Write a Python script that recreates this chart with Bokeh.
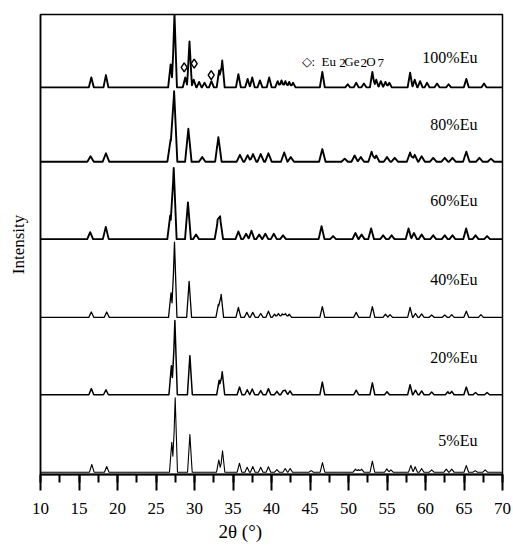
import numpy as np
from bokeh.plotting import figure
from bokeh.models import SingleIntervalTicker, FixedTicker, Title
from bokeh.core.properties import value
from bokeh.embed import file_html
from bokeh.resources import INLINE

# ---------------- data ----------------
samples = ["5%Eu", "20%Eu", "40%Eu", "60%Eu", "80%Eu", "100%Eu"]
offsets = [0.03, 1.04, 2.05, 3.07, 4.08, 5.05]

pos_5 = [16.66, 18.6, 27.05, 27.49, 29.4, 33.16, 33.64, 35.84, 36.84, 37.57, 38.6, 39.6,
         40.7, 41.78, 42.43, 45.15, 46.62, 50.9, 51.3, 51.7, 53.1, 54.98, 55.5, 58.1,
         58.66, 59.5, 60.8, 62.7, 63.4, 65.3, 66.45, 67.75]
h_5 = [0.10, 0.074, 0.39, 0.97, 0.49, 0.16, 0.28, 0.117, 0.065, 0.074, 0.065, 0.07,
       0.035, 0.048, 0.048, 0.02, 0.125, 0.04, 0.035, 0.04, 0.143, 0.043, 0.03, 0.09,
       0.07, 0.048, 0.03, 0.04, 0.04, 0.087, 0.02, 0.03]

pos_20 = [16.6, 18.5, 27.0, 27.45, 29.4, 33.2, 33.6, 35.85, 36.85, 37.5, 38.6, 39.6,
          40.7, 41.5, 41.8, 42.4, 46.6, 51.0, 53.1, 55.0, 58.0, 58.7, 59.5, 60.8,
          62.9, 63.4, 65.3, 66.5, 68.0]
h_20 = [0.08, 0.065, 0.38, 0.97, 0.51, 0.19, 0.30, 0.10, 0.065, 0.075, 0.055, 0.08,
        0.045, 0.05, 0.055, 0.05, 0.165, 0.06, 0.155, 0.04, 0.13, 0.06, 0.05, 0.035,
        0.04, 0.045, 0.10, 0.03, 0.03]

pos_40 = [16.6, 18.6, 26.95, 27.4, 29.3, 33.1, 33.46, 35.7, 36.8, 37.57, 38.6, 39.6,
          40.4, 40.9, 41.4, 41.8, 42.3, 46.6, 51.0, 53.1, 54.8, 55.4, 58.0, 58.7,
          59.5, 60.8, 62.5, 63.4, 65.3, 67.2]
h_40 = [0.07, 0.07, 0.32, 0.98, 0.47, 0.17, 0.30, 0.13, 0.065, 0.065, 0.05, 0.08,
        0.04, 0.05, 0.045, 0.05, 0.04, 0.14, 0.065, 0.14, 0.04, 0.035, 0.13, 0.05,
        0.045, 0.03, 0.03, 0.035, 0.08, 0.035]

pos_60 = [16.45, 18.48, 26.85, 27.3, 29.15, 30.2, 33.0, 33.33, 35.7, 36.7, 37.4, 38.4,
          39.2, 40.3, 41.5, 46.5, 48.0, 50.9, 51.7, 52.94, 54.5, 55.6, 57.8, 58.5,
          59.5, 61.0, 62.5, 63.5, 65.28, 66.5, 68.0]
h_60 = [0.09, 0.16, 0.31, 0.93, 0.48, 0.06, 0.22, 0.27, 0.10, 0.07, 0.11, 0.06,
        0.07, 0.07, 0.05, 0.17, 0.04, 0.08, 0.06, 0.14, 0.05, 0.05, 0.14, 0.08,
        0.06, 0.05, 0.05, 0.05, 0.14, 0.05, 0.04]

pos_80 = [16.5, 18.5, 26.9, 27.35, 29.2, 31.0, 33.1, 35.9, 36.9, 37.6, 38.6, 39.6,
          41.65, 42.5, 46.6, 49.5, 50.8, 51.6, 53.0, 53.6, 55.0, 56.0, 58.0, 58.6,
          59.5, 61.0, 62.5, 63.5, 65.3, 67.0, 68.5]
h_80 = [0.07, 0.11, 0.29, 0.92, 0.43, 0.06, 0.32, 0.09, 0.085, 0.10, 0.10, 0.11,
        0.12, 0.06, 0.165, 0.04, 0.08, 0.06, 0.13, 0.08, 0.06, 0.05, 0.12, 0.09,
        0.07, 0.05, 0.05, 0.05, 0.13, 0.05, 0.04]

pos_100 = [16.6, 18.5, 26.9, 27.4, 28.8, 29.35, 29.9, 30.6, 31.3, 32.2, 33.2, 33.6,
           35.7, 36.9, 37.5, 38.5, 39.7, 40.8, 41.3, 41.8, 42.3, 42.8, 46.6, 49.9,
           51.0, 52.0, 53.1, 53.6, 54.2, 54.8, 55.3, 58.0, 58.6, 59.3, 60.2, 61.5,
           63.0, 65.3, 67.6]
h_100 = [0.13, 0.16, 0.30, 0.96, 0.13, 0.60, 0.10, 0.07, 0.06, 0.08, 0.22, 0.35,
         0.17, 0.11, 0.13, 0.09, 0.13, 0.08, 0.09, 0.08, 0.07, 0.06, 0.20, 0.04,
         0.06, 0.05, 0.20, 0.10, 0.08, 0.07, 0.06, 0.19, 0.10, 0.08, 0.06, 0.05,
         0.04, 0.11, 0.05]

peak_pos = [pos_5, pos_20, pos_40, pos_60, pos_80, pos_100]
peak_h = [h_5, h_20, h_40, h_60, h_80, h_100]

# Eu2Ge2O7 phase markers (diamonds)
phase_2theta = [28.66, 29.96, 32.17]
phase_int = [5.31, 5.36, 5.21]

x_min, x_max = 10, 70

# ---------------- styles ----------------
half_widths = [0.3, 0.32, 0.32, 0.38, 0.42, 0.32]
line_widths = [1.1, 1.5, 1.3, 1.9, 1.9, 1.9]
SERIF = "Liberation Serif"


def profile(pos, h, base, w):
    pos = np.asarray(pos, dtype=float)
    h = np.asarray(h, dtype=float)
    xs = np.unique(np.concatenate([[x_min, x_max], pos - w, pos, pos + w]))
    xs = xs[(xs >= x_min) & (xs <= x_max)]
    tri = np.clip(1 - np.abs(xs[:, None] - pos[None, :]) / w, 0, None)
    return xs, base + (tri * h[None, :]).sum(axis=1)


p = figure(width=513, height=545, x_range=(x_min, x_max), y_range=(0, 6),
           output_backend="svg", toolbar_location=None,
           min_border_left=40, min_border_right=11, min_border_top=14,
           min_border_bottom=71)
p.grid.visible = False
p.outline_line_color = "black"
p.outline_line_width = 1.5
p.background_fill_color = "white"
p.border_fill_color = "white"

for i in range(len(samples)):
    xs, ys = profile(peak_pos[i], peak_h[i], offsets[i], half_widths[i])
    p.line(xs, ys, line_color="black", line_width=line_widths[i], line_join="round")

p.scatter(phase_2theta, phase_int, marker="diamond", size=9, line_color="black",
          line_width=1.5, fill_color="white")

# sample labels
lab_y = [0.44, 1.52, 2.54, 3.58, 4.57, 5.44]
p.text(x=[66.75] * 6, y=lab_y, text=samples, text_align="right",
       text_baseline="middle", text_font=value(SERIF), text_font_size="16px",
       text_color="black")

# phase legend text: "◇: Eu2Ge2O7" with lowered digits
leg_x = [43.9, 46.49, 48.8, 49.45, 51.55, 52.3, 53.75]
leg_y = [5.39, 5.39, 5.365, 5.39, 5.365, 5.39, 5.365]
leg_t = ["◇:", "Eu", "2", "Ge", "2", "O", "7"]
p.text(x=leg_x, y=leg_y, text=leg_t, text_align="left", text_baseline="alphabetic",
       text_font=value(SERIF), text_font_size="13px", text_color="black")

xa = p.xaxis[0]
xa.ticker = SingleIntervalTicker(interval=5, num_minor_ticks=2)
xa.axis_line_width = 2
xa.major_tick_out = 16
xa.major_tick_in = 0
xa.minor_tick_out = 8
xa.minor_tick_in = 0
xa.major_tick_line_width = 2
xa.minor_tick_line_width = 2
xa.major_label_text_font = SERIF
xa.major_label_text_font_size = "17px"
xa.major_label_text_color = "black"
xa.major_label_standoff = 12

ya = p.yaxis[0]
ya.ticker = FixedTicker(ticks=[])
ya.axis_line_width = 1.5
ya.axis_label = "Intensity"
ya.axis_label_text_font = SERIF
ya.axis_label_text_font_size = "17px"
ya.axis_label_text_font_style = "normal"
ya.axis_label_text_color = "black"
ya.axis_label_standoff = 13

p.add_layout(Title(text="2θ (°)", align="left", offset=178, standoff=5,
                   text_font=SERIF, text_font_size="19px",
                   text_font_style="normal", text_color="black"), "below")

open("out.html", "w").write(file_html(p, INLINE))
